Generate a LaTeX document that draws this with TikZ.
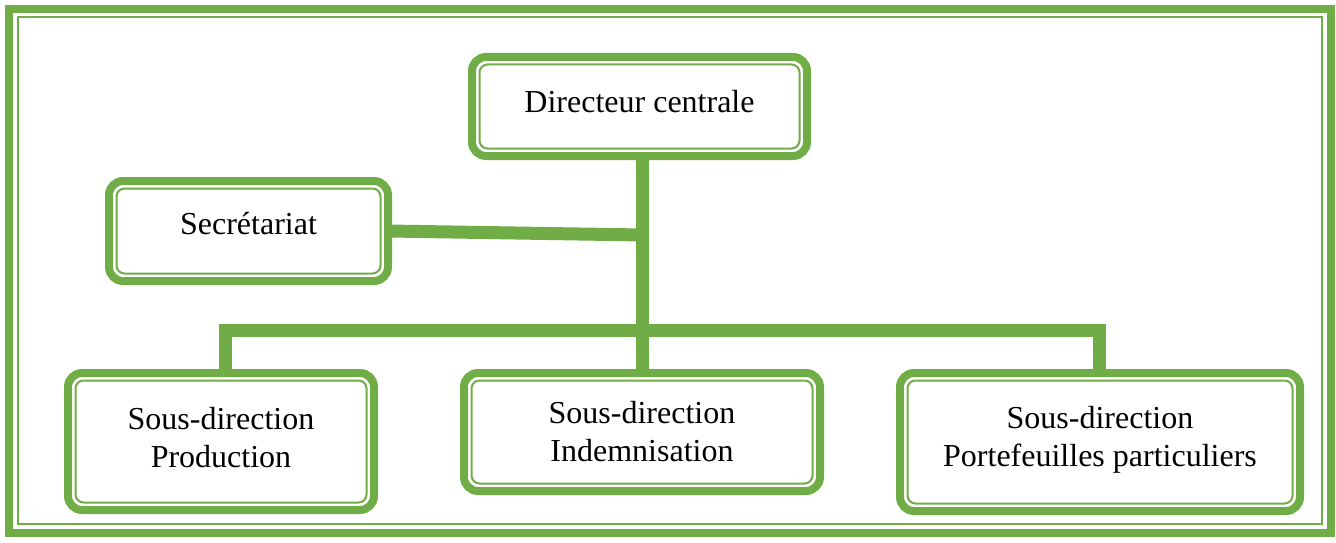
\documentclass[tikz,border=0pt]{standalone}
\usepackage{fontspec}
\setmainfont{Liberation Serif}
\definecolor{ogreen}{RGB}{112,173,71}
\begin{document}
\begin{tikzpicture}[x=1pt,y=-1pt,
  box/.style={draw=ogreen, line width=8pt, rounded corners=14pt, fill=white,
    outer sep=0pt, inner sep=0pt, align=center,
    font=\fontsize{32}{38}\selectfont},
  innerline/.style={draw=ogreen, line width=2pt, rounded corners=8pt},
  link/.style={draw=ogreen, line width=13pt, line join=miter}]
\useasboundingbox (0,0) rectangle (1336,543);
% page frame: thick outer rule and thin inner rule
\draw[ogreen, line width=8pt] (9,9) rectangle (1330.5,532.5);
\draw[ogreen, line width=2pt] (18,17) rectangle (1322,524);

% junction points of the connectors
\coordinate (join) at (642.5,235);
\coordinate (busL) at (225,330);
\coordinate (busR) at (1099,330);

% boxes (extra text depth lifts the text a little above the box centre)
\node[box, minimum width=335pt, minimum height=99pt, text depth=10pt] (dir) at (639.5,106.5) {Directeur centrale};
\node[box, minimum width=279pt, minimum height=100pt, text depth=16pt] (sec) at (248.5,231) {Secrétariat};
\node[box, minimum width=306pt, minimum height=137pt, text depth=8pt] (prod) at (221,441.5) {Sous-direction\\Production};
\node[box, minimum width=356pt, minimum height=118pt] (ind) at (642,432) {Sous-direction\\Indemnisation};
\node[box, minimum width=400pt, minimum height=138pt, text depth=11pt] (port) at (1100,442) {Sous-direction\\Portefeuilles particuliers};

% thin inner outline of every box
\foreach \n in {dir,sec,prod,ind,port}
  \draw[innerline] ([shift={(7.5,7.5)}]\n.north west) rectangle ([shift={(-7.5,-7.5)}]\n.south east);

% connectors
\draw[link] (dir.south -| join) -- (ind.north -| join);
\draw[link] (sec.east) -- (join);
\draw[link] (prod.north -| busL) -- (busL) -- (busR) -- (port.north -| busR);
\end{tikzpicture}
\end{document}
